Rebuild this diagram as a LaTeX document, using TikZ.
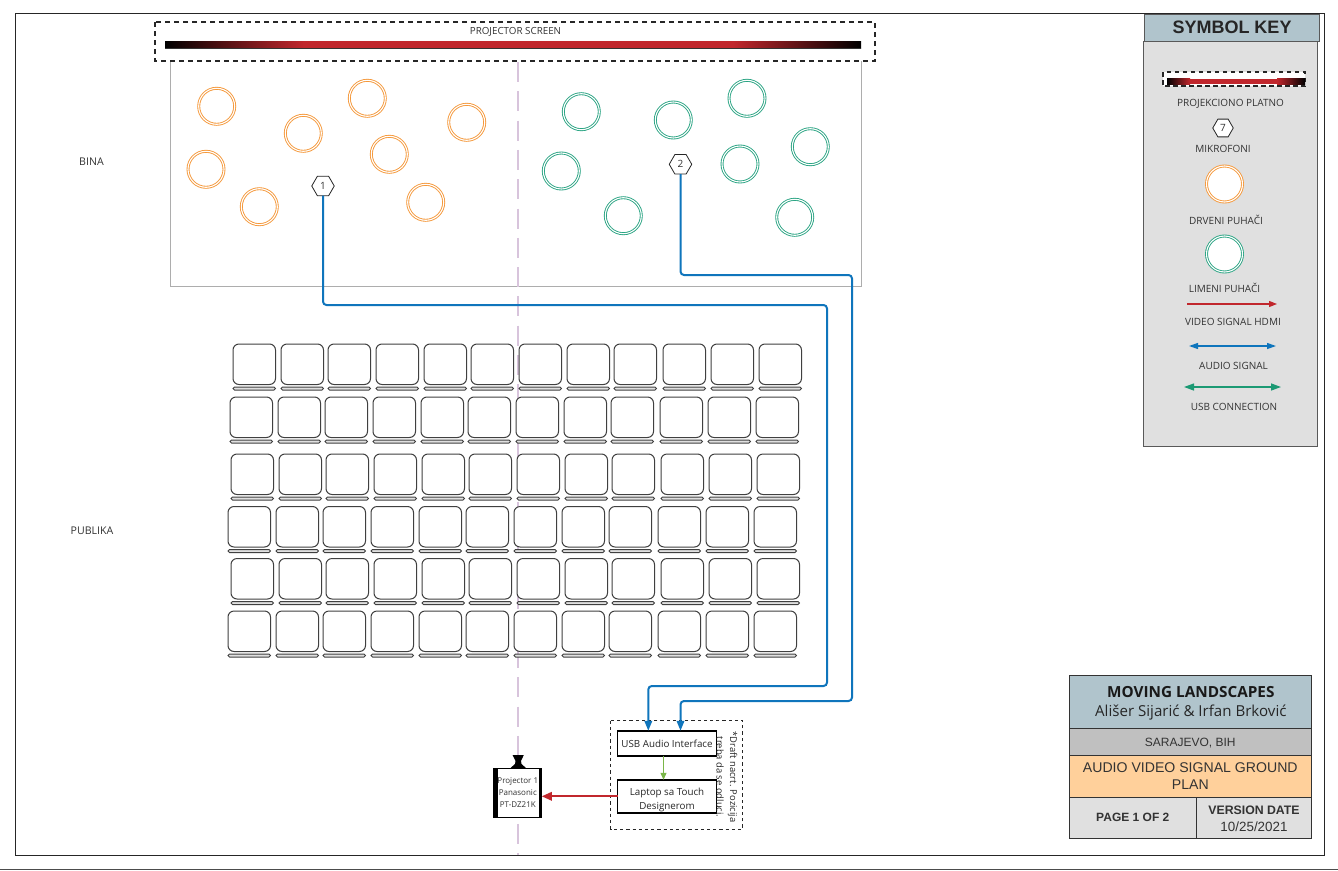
\documentclass[tikz,border=0pt]{standalone}
\usepackage{fontspec}
\setmainfont{Open Sans}
\newfontfamily\rb{Liberation Sans}
\usetikzlibrary{arrows.meta,shapes.geometric}
\definecolor{txt}{HTML}{333333}
\definecolor{scrred}{HTML}{C1272D}
\definecolor{aud}{HTML}{0F75BC}
\definecolor{usbg}{HTML}{1C9A74}
\definecolor{wood}{HTML}{F5983A}
\definecolor{brass}{HTML}{2AA483}
\definecolor{lav}{HTML}{D8C4DC}
\definecolor{steel}{HTML}{B0C4CC}
\definecolor{lgray}{HTML}{E0E0E0}
\definecolor{mgray}{HTML}{C0C0C0}
\definecolor{peach}{HTML}{FFD09B}
\definecolor{sprout}{HTML}{7AB648}
\tikzset{
  lbl/.style={text=txt,inner sep=0pt,font=\fontsize{10}{12.5}\selectfont,align=center},
  woodc/.style={circle,draw=wood,double=white,double distance=1.1,line width=.9,fill=white,minimum size=36,inner sep=0,outer sep=0},
  brassc/.style={woodc,draw=brass},
  mic/.style={regular polygon,regular polygon sides=6,draw=black!85,fill=white,line width=.8,minimum size=22.5,inner sep=0,outer sep=0,text=txt,font=\fontsize{10}{12}\selectfont},
  dev/.style={rectangle,draw=black,fill=white,line width=1.4,inner sep=0,outer sep=0,text=black!85,align=center,font=\fontsize{9.8}{13.3}\selectfont},
  seatb/.style={draw=black!75,fill=white,line width=1,rounded corners=6},
  seatr/.style={draw=black!75,fill=lgray,line width=1,rounded corners=1.5},
  audio/.style={draw=aud,line width=2,rounded corners=3.5,-{Triangle[length=10,width=7.5]}},
  cell/.style={rectangle,draw=black!80,line width=.9,inner sep=0,outer sep=0},
  dashb/.style={draw=black!85,line width=1.3,dash pattern=on 5 off 4},
}
\begin{document}
\begin{tikzpicture}[x=1pt,y=-1pt]
\useasboundingbox (0,0) rectangle (1338,870);
\fill[white] (0,0) rectangle (1338,870);
% frame
\draw[black!85,line width=1] (15,13) rectangle (1324,855.5);
\draw[black!70,line width=1] (0,869) -- (1338,869);
% stage
\draw[black!32,line width=.9] (170,61) -- (170,286) -- (861,286) -- (861,61);
% centre line
\draw[lav,line width=2,dash pattern=on 20 off 9.3] (518.3,62) -- (518.3,855);
% screen
\node[lbl,font=\fontsize{9.8}{12}\selectfont] (screenlabel) at (515.5,32) {PROJECTOR SCREEN};
\draw[dashb] (155,22) rectangle (875,61);
\shade[left color=black,right color=scrred] (165,41) rectangle (304,48);
\fill[scrred] (303.5,41) rectangle (733.5,48);
\shade[left color=scrred,right color=black] (733,41) rectangle (861,48);
\draw[black!80,line width=.8] (165,48) -- (861,48);
% players
\foreach \n/\x/\y in {1/216.7/106.3,2/303.3/133.3,3/367.3/98.3,4/466.7/122.3,5/389.3/154.3,6/206/169.3,7/259.3/206.7,8/425.7/202.3}
  \node[woodc] (w\n) at (\x,\y) {};
\foreach \n/\x/\y in {1/581.3/111.7,2/673.3/120,3/747/98.3,4/810.3/146.7,5/740/164,6/561.3/171,7/623.3/215.7,8/794.7/217.3}
  \node[brassc] (b\n) at (\x,\y) {};
\node[lbl,font=\fontsize{10.6}{12}\selectfont] (bina) at (91.5,161.5) {BINA};
\node[lbl,font=\fontsize{10.6}{12}\selectfont] (publika) at (92,530.5) {PUBLIKA};
% seats
\foreach \r/\y/\dx in {1/344/3,2/397/0,3/454/1,4/506.5/-2,5/558.5/1,6/611/-2}{
  \foreach \x in {230,278,325,373,421,468,516,564,611,660,708,756}{
    \draw[seatb] (\x+\dx,\y) rectangle +(42.5,40.5);
    \draw[seatr] (\x+\dx,\y+43) rectangle +(42.5,3);
  }
}
% microphones
\node[mic] (m1) at (323,186) {1};
\node[mic] (m2) at (680.5,164.3) {2};
% equipment
\draw[black!85,line width=1,dash pattern=on 3.2 off 3] (610.7,720.7) rectangle (742.7,829);
\node[dev,minimum width=99,minimum height=25] (usb) at (667,743.3) {USB Audio Interface};
\node[dev,minimum width=99,minimum height=33] (lap) at (667,796.3) {\rule{0pt}{15pt}Laptop sa Touch\\Designerom};
\node[lbl,rotate=-90,font=\fontsize{9.4}{13.5}\selectfont,text=black!85] (draft) at (726.8,777) {*Draft nacrt. Pozicija\\treba da se odluci.};
\node[rectangle,draw=black,fill=white,line width=1.2,minimum width=48,minimum height=49,inner sep=0,outer sep=0,align=center,text=txt,font=\fontsize{8}{11.7}\selectfont] (proj) at (517.8,792.7) {Projector 1\\Panasonic\\PT-DZ21K};
\fill[black] (494,768) rectangle (497.5,817.3);
\fill[black] (538.5,768) rectangle (542.3,817.3);
\fill[black] (512.5,755) -- (523.8,755) -- (521,761) -- (521.5,764) -- (526,768) -- (510.5,768) -- (515,764) -- (515.5,761) -- cycle;
% connectors
\coordinate (c1) at (827,305);
\coordinate (c2) at (648.3,686);
\coordinate (c3) at (852,275);
\coordinate (c4) at (680.5,701);
\draw[audio] (m1.south) |- (c1) |- (c2) -- (c2 |- usb.north);
\draw[audio] (m2.south) |- (c3) |- (c4) -- (c4 |- usb.north);
\coordinate (g1) at (663.5,743);
\draw[sprout,line width=1,-{Triangle[length=7,width=6]}] (g1 |- usb.south) -- (g1 |- lap.north);
\draw[scrred,line width=1.8,-{Triangle[length=10,width=8.5]}] (lap.west) -- (lap.west -| proj.east);
% symbol key
\node[cell,draw=black!65,fill=steel,minimum width=175,minimum height=27,text=black!85,font=\rb\bfseries\fontsize{18}{20}\selectfont] (keyhead) at (1232,27.5) {SYMBOL KEY};
\node[cell,draw=black!65,fill=lgray,minimum width=174,minimum height=405] (keybody) at (1230,243.5) {};
\fill[white] (1163,72) rectangle (1305,86);
\draw[dashb,line width=1.1,dash pattern=on 4.5 off 3.5] (1163,72) rectangle (1305,86);
\shade[left color=black,right color=scrred] (1167,78.5) rectangle (1190,84);
\fill[scrred] (1189.5,78.5) rectangle (1277.5,84);
\shade[left color=scrred,right color=black] (1277,78.5) rectangle (1305,84);
\node[lbl] (k1) at (1230.5,103.7) {PROJEKCIONO PLATNO};
\node[mic,minimum size=20.5] (km) at (1223,128) {7};
\node[lbl] (k2) at (1223,148.7) {MIKROFONI};
\node[woodc] (kw) at (1224.5,184) {};
\node[lbl] (k3) at (1226,219.7) {DRVENI PUHAČI};
\node[brassc] (kb) at (1224.5,254) {};
\node[lbl] (k4) at (1224.5,287.7) {LIMENI PUHAČI};
\coordinate (r1) at (1187,304);
\coordinate (r2) at (1277,304);
\draw[scrred,line width=1.1,-{Triangle[length=8,width=6]}] (r1) -- (r2);
\node[lbl] (k5) at (1233,321.7) {VIDEO SIGNAL HDMI};
\coordinate (a1) at (1189,346);
\coordinate (a2) at (1276,346);
\draw[aud,line width=1.2,{Triangle[length=9,width=6]}-{Triangle[length=9,width=6]}] (a1) -- (a2);
\node[lbl] (k6) at (1233.5,365.7) {AUDIO SIGNAL};
\coordinate (u1) at (1184,387);
\coordinate (u2) at (1281,387);
\draw[usbg,line width=1.3,{Triangle[length=10,width=7]}-{Triangle[length=10,width=7]}] (u1) -- (u2);
\node[lbl] (k7) at (1234,406.7) {USB CONNECTION};
% title block
\node[cell,fill=steel,minimum width=242,minimum height=53.3,align=center,text=black!90] (t1) at (1190.3,701.7) {};
\node[inner sep=0,text=black!90,font=\bfseries\fontsize{15.3}{18}\selectfont] (t1a) at (1190.8,692) {MOVING LANDSCAPES};
\node[inner sep=0,text=black!85,font=\fontsize{15.1}{18}\selectfont] (t1b) at (1190.8,713) {Ališer Sijarić \& Irfan Brković};
\node[cell,fill=mgray,minimum width=242,minimum height=27,text=txt,font=\rb\fontsize{12}{14}\selectfont] (t2) at (1190.3,741.8) {\rule{0pt}{11pt}SARAJEVO, BIH};
\node[cell,fill=peach,minimum width=242,minimum height=42,align=center,text=txt,font=\rb\fontsize{14.1}{17.5}\selectfont] (t3) at (1190.3,776.3) {AUDIO VIDEO SIGNAL GROUND\\PLAN};
\node[cell,fill=lgray,minimum width=127,minimum height=41,text=txt,font=\rb\bfseries\fontsize{12}{14}\selectfont] (t4) at (1132.8,817.8) {PAGE 1 OF 2};
\node[cell,fill=lgray,minimum width=115,minimum height=41] (t5) at (1253.8,817.8) {};
\node[inner sep=0,text=txt,font=\rb\bfseries\fontsize{12.3}{14}\selectfont] (t5a) at (1254,810) {VERSION DATE};
\node[inner sep=0,text=txt,font=\rb\fontsize{13.4}{14}\selectfont] (t5b) at (1254,826.3) {10/25/2021};
\end{tikzpicture}
\end{document}
